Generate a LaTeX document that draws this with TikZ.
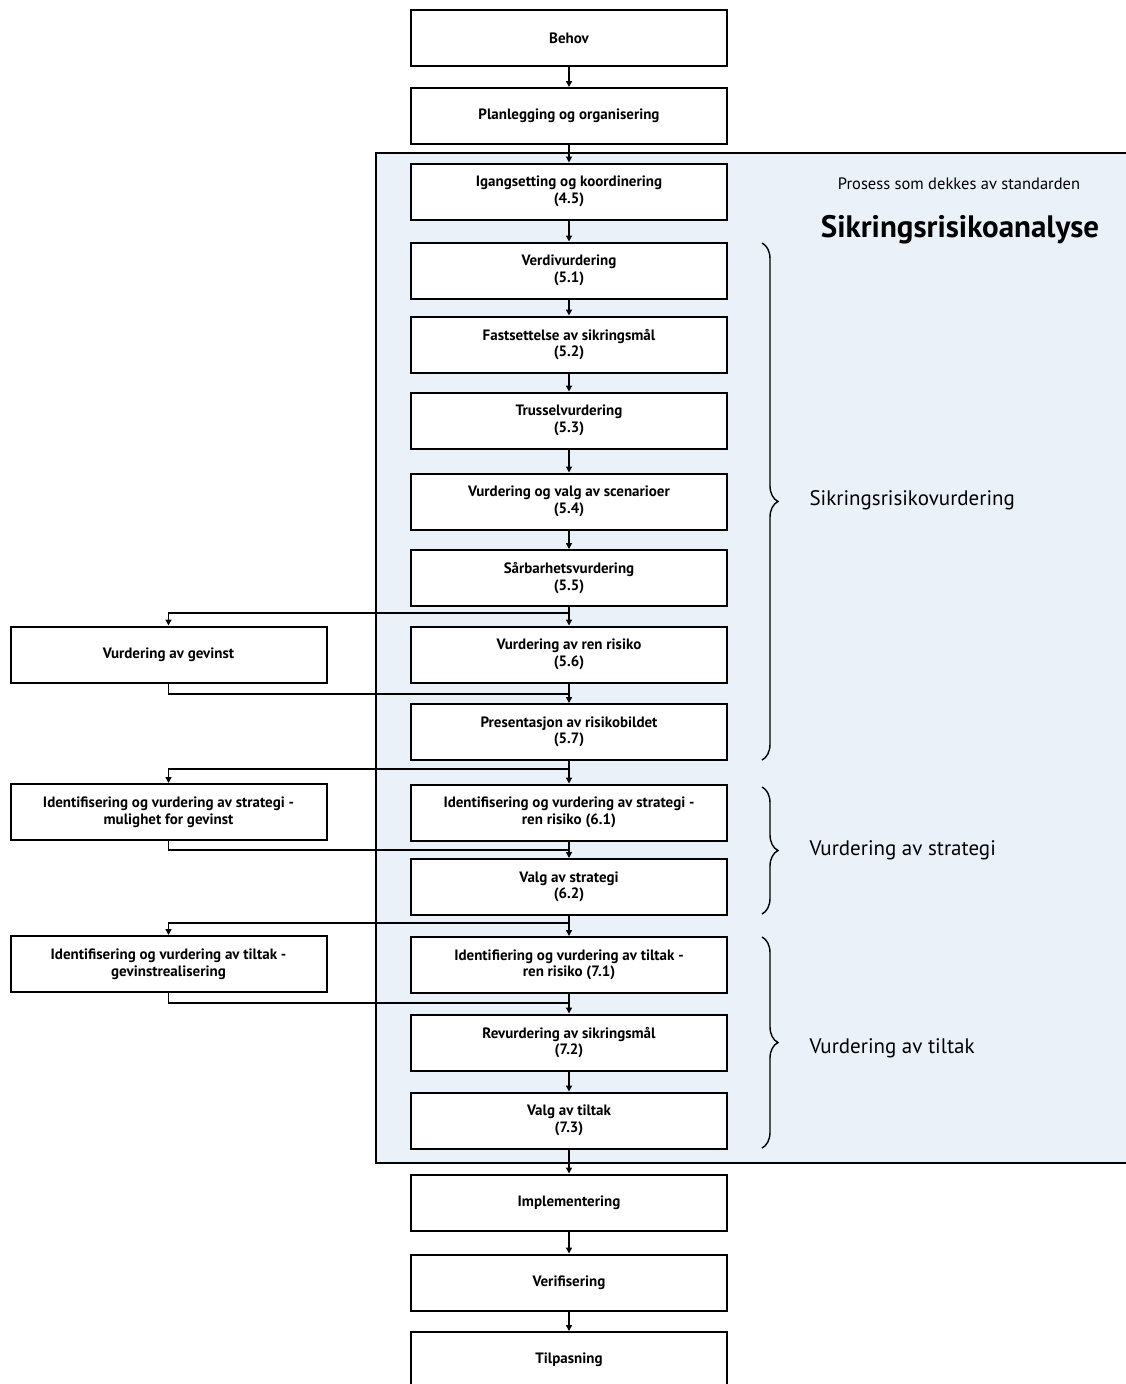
\documentclass[tikz,border=0pt]{standalone}
\usepackage{fontspec}
\setmainfont{PT Sans}
\usetikzlibrary{arrows.meta,decorations.pathreplacing}
\definecolor{areablue}{HTML}{EAF1F9}
\tikzset{
  boks/.style={draw, line width=2pt, fill=white, minimum width=316pt, minimum height=56pt,
    align=center, inner sep=2pt, font=\bfseries\fontsize{15}{16.5}\selectfont},
  pil/.style={line width=1.4pt, -{Triangle[length=6pt,width=6pt]}},
  linje/.style={line width=1.4pt},
  klamme/.style={decorate, decoration={brace, amplitude=16pt}, line width=1.4pt},
  fase/.style={anchor=west, font=\fontsize{21}{25}\selectfont},
}
\begin{document}
\begin{tikzpicture}[x=1pt,y=-1pt]
   \useasboundingbox (0,0) rectangle (1126,1384);
   \clip (0,0) rectangle (1126,1384);

   % omraadet som dekkes av standarden
   \fill[areablue] (376,153) rectangle (1140,1163);
   \draw[line width=1.4pt] (1140,153) -- (376,153) -- (376,1163) -- (1140,1163);
   \node[font=\fontsize{16.5}{20}\selectfont] (prosess) at (959,184) {Prosess som dekkes av standarden};
   \node[font=\bfseries\fontsize{31}{36}\selectfont] (analyse) at (960,230) {Sikringsrisikoanalyse};

   % hovedlopet
   \node[boks] (behov) at (569,38) {Behov};
   \node[boks] (plan) at (569,116) {Planlegging og organisering};
   \node[boks] (igang) at (569,191.5) {Igangsetting og koordinering\\(4.5)};
   \node[boks] (verdi) at (569,270.5) {Verdivurdering\\(5.1)};
   \node[boks] (fast) at (569,344.5) {Fastsettelse av sikringsmål\\(5.2)};
   \node[boks] (trussel) at (569,420.5) {Trusselvurdering\\(5.3)};
   \node[boks] (scen) at (569,501.5) {Vurdering og valg av scenarioer\\(5.4)};
   \node[boks] (saar) at (569,578) {Sårbarhetsvurdering\\(5.5)};
   \node[boks] (renrisiko) at (569,654.5) {Vurdering av ren risiko\\(5.6)};
   \node[boks] (bilde) at (569,732) {Presentasjon av risikobildet\\(5.7)};
   \node[boks] (strategi) at (569,812.5) {Identifisering og vurdering av strategi -\\ren risiko (6.1)};
   \node[boks] (valgstr) at (569,887) {Valg av strategi\\(6.2)};
   \node[boks] (tiltak) at (569,965) {Identifiering og vurdering av tiltak -\\ren risiko (7.1)};
   \node[boks] (revurd) at (569,1042.5) {Revurdering av sikringsmål\\(7.2)};
   \node[boks] (valgtilt) at (569,1120.5) {Valg av tiltak\\(7.3)};
   \node[boks] (impl) at (569,1202.5) {Implementering};
   \node[boks] (verif) at (569,1282.5) {Verifisering};
   \node[boks] (tilp) at (569,1360) {Tilpasning};

   \foreach \a/\b in {behov/plan, plan/igang, igang/verdi, verdi/fast, fast/trussel,
       trussel/scen, scen/saar, saar/renrisiko, renrisiko/bilde, bilde/strategi,
       strategi/valgstr, valgstr/tiltak, tiltak/revurd, revurd/valgtilt,
       valgtilt/impl, impl/verif, verif/tilp}
     \draw[pil] (\a) -- (\b);

   % gevinstsiden
   \node[boks] (gevinst) at (168.5,654.5) {Vurdering av gevinst};
   \node[boks] (mulighet) at (168.5,812) {Identifisering og vurdering av strategi -\\mulighet for gevinst};
   \node[boks] (realis) at (168.5,964) {Identifisering og vurdering av tiltak -\\gevinstrealisering};

   \coordinate (ut1) at (569,613);  \coordinate (inn1) at (569,694);
   \coordinate (ut2) at (569,769);  \coordinate (inn2) at (569,850);
   \coordinate (ut3) at (569,923);  \coordinate (inn3) at (569,1003);
   \draw[pil] (ut1) -| (gevinst.north);
   \draw[linje] (gevinst.south) |- (inn1);
   \draw[pil] (ut2) -| (mulighet.north);
   \draw[linje] (mulighet.south) |- (inn2);
   \draw[pil] (ut3) -| (realis.north);
   \draw[linje] (realis.south) |- (inn3);

   % klammer
   \draw[klamme] (762,243) -- (762,760);
   \draw[klamme] (762,787) -- (762,914);
   \draw[klamme] (762,937) -- (762,1148);
   \node[fase] (vurd) at (806,500) {Sikringsrisikovurdering};
   \node[fase] (strat) at (806,850) {Vurdering av strategi};
   \node[fase] (tilt) at (806,1048) {Vurdering av tiltak};
\end{tikzpicture}
\end{document}
